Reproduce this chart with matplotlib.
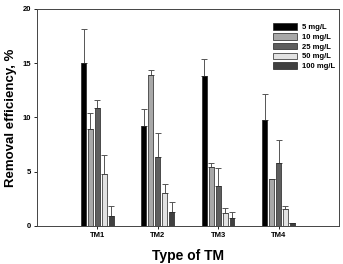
import numpy as np
import matplotlib
matplotlib.use("Agg")
import matplotlib.pyplot as plt

plt.rcParams['font.family'] = ['Liberation Sans', 'DejaVu Sans']
plt.rcParams['font.weight'] = 'bold'

groups = ['TM1', 'TM2', 'TM3', 'TM4']
series = ['5 mg/L', '10 mg/L', '25 mg/L', '50 mg/L', '100 mg/L']
values = {
    '5 mg/L':   [15.0, 9.2, 13.8, 9.8],
    '10 mg/L':  [8.9, 13.9, 5.4, 4.3],
    '25 mg/L':  [10.9, 6.4, 3.7, 5.8],
    '50 mg/L':  [4.8, 3.0, 1.2, 1.6],
    '100 mg/L': [0.9, 1.3, 0.7, 0.25],
}
errors = {
    '5 mg/L':   [3.2, 1.6, 1.6, 2.4],
    '10 mg/L':  [1.5, 0.5, 0.4, 0.0],
    '25 mg/L':  [0.7, 2.2, 1.6, 2.1],
    '50 mg/L':  [1.7, 0.9, 0.5, 0.2],
    '100 mg/L': [0.9, 0.9, 0.6, 0.0],
}
colors = ['#000000', '#a8a8a8', '#5e5e5e', '#e2e2e2', '#404040']

fig = plt.figure(figsize=(3.43, 2.64), dpi=100)
ax = fig.add_axes([0.108, 0.144, 0.880, 0.822])

x = np.arange(1, len(groups) + 1)
step = 0.115
width = 0.08
for i, s in enumerate(series):
    pos = x + (i - 2) * step
    err = np.array(errors[s])
    ax.bar(pos, values[s], width, color=colors[i], edgecolor='#222222',
           linewidth=0.5, label=s, zorder=2)
    ax.errorbar(pos, values[s], yerr=[np.zeros_like(err), err], fmt='none',
                ecolor='#555555', elinewidth=0.7, capsize=2.5, capthick=0.7,
                zorder=1)

ax.set_xlim(0, 5.0)
ax.set_ylim(0, 20)
ax.set_yticks([0, 5, 10, 15, 20])
ax.set_xticks(x)
ax.set_xticklabels(groups)
ax.tick_params(labelsize=5.5, length=2.5, width=0.6, pad=2)
for sp in ax.spines.values():
    sp.set_linewidth(0.7)
    sp.set_color('#444444')
ax.set_xlabel('Type of TM', fontsize=10, fontweight='bold', labelpad=7)
ax.set_ylabel('Removal efficiency, %', fontsize=9.5, fontweight='bold', labelpad=4)

ax.legend(loc='upper right', bbox_to_anchor=(1.01, 0.965), frameon=False,
          fontsize=5.5, handlelength=3.2, handleheight=0.9,
          labelspacing=0.25, handletextpad=0.6)

fig.savefig('out.png', dpi=100)
